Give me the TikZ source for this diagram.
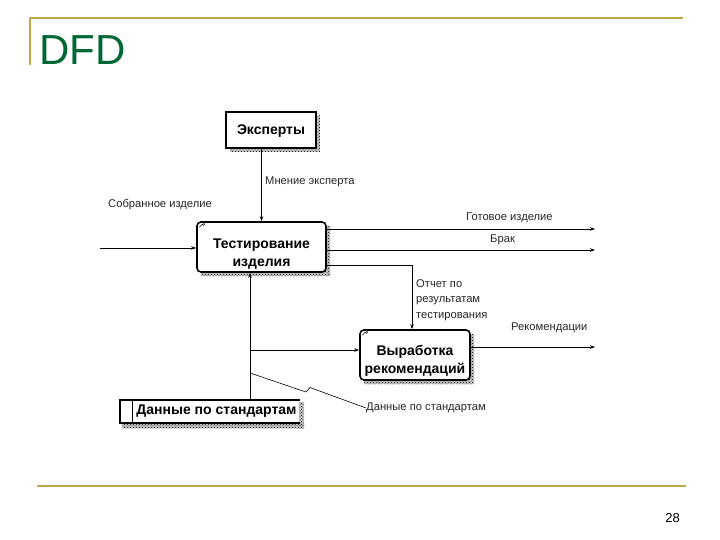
\documentclass[tikz,border=0pt]{standalone}
\usepackage{fontspec}
\setmainfont{Liberation Sans}
\usetikzlibrary{arrows.meta,patterns}
\definecolor{gold}{RGB}{192,168,72}
\definecolor{dfdgreen}{RGB}{0,102,51}
\begin{document}
\begin{tikzpicture}[x=1pt,y=-1pt,
  box/.style={draw,line width=1.6pt,rounded corners=4pt,fill=white,inner sep=0pt},
  boxtext/.style={align=center,inner sep=0pt,font=\bfseries\fontsize{14}{18}\selectfont},
  flow/.style={line width=0.8pt,-{Stealth[length=5pt,width=3.5pt]}},
  lbl/.style={font=\fontsize{11.2}{15.5}\selectfont,inner sep=0pt,text=black!85},
  shadebg/.style={fill=black!22,draw=none},
  shade/.style={pattern=crosshatch dots,pattern color=black,draw=none},
  cornermark/.style={line width=0.5pt}]
\useasboundingbox (0,0) rectangle (720,540);
% frame lines
\draw[gold,line width=1.8pt] (30,65) -- (30,18) -- (683,18);
\draw[gold,line width=2.2pt] (37,486) -- (686,486);
\node[anchor=base west,inner sep=0pt,text=dfdgreen,font=\fontsize{42}{42}\selectfont] (title) at (39,65) {DFD};
\node[anchor=base east,inner sep=0pt,font=\fontsize{13}{13}\selectfont] (page) at (680,522) {28};
% shadows
\foreach \s in {shadebg,shade}{
  \fill[\s] (230,116) rectangle (320,152);
  \fill[\s] (201,226) rectangle (330,276);
  \fill[\s] (364,334) rectangle (474,384);
  \fill[\s] (122,423) rectangle (304,428);
  \fill[\s] (299,402) rectangle (304,428);
}
% boxes
\node[box,rounded corners=0pt,line width=2pt,minimum width=90pt,minimum height=36pt] (exp) at (271,130) {};
\node[boxtext] (expt) at ([yshift=-1pt]exp.center) {Эксперты};
\node[box,minimum width=129pt,minimum height=50pt] (test) at (261.5,247) {};
\node[boxtext,font=\bfseries\fontsize{14}{17.5}\selectfont] (testt) at ([yshift=-7pt]test.center) {Тестирование\\изделия};
\node[box,minimum width=110pt,minimum height=50pt] (vyr) at (415,355) {};
\node[boxtext,font=\bfseries\fontsize{14}{17.5}\selectfont] (vyrt) at ([yshift=-6pt]vyr.center) {Выработка\\рекомендаций};
\node[inner sep=0pt,minimum width=180pt,minimum height=23pt,font=\bfseries\fontsize{14}{16}\selectfont] (store) at (210,411.5) {\hspace*{13pt}Данные по стандартам};
\draw[line width=1.8pt] (store.north east) -- (store.north west) -- (store.south west) -- (store.south east);
\draw[line width=1pt] ([xshift=13pt]store.north west) -- ([xshift=13pt]store.south west);
% corner marks
\draw[cornermark] ([shift={(3,6)}]test.north west) -- ++(3,-3) arc (180:-90:1.2);
\draw[cornermark] ([shift={(3,6)}]vyr.north west) -- ++(3,-3) arc (180:-90:1.2);
% connectors
\draw[flow] (exp.south -| test.north) -- (test.north);
\coordinate (in) at (100,248);
\draw[flow] (in) -- (in -| test.west);
\coordinate (o1) at (595,229);
\coordinate (o2) at (595,250);
\draw[flow] (test.east |- o1) -- (o1);
\draw[flow] (test.east |- o2) -- (o2);
\coordinate (rep) at (412,265);
\draw[flow] (test.east |- rep) -- (rep) -- (vyr.north -| rep);
\coordinate (o3) at (595,347);
\draw[flow] (vyr.east |- o3) -- (o3);
\coordinate (st) at (250,400);
\draw[flow] (st) -- (test.south -| st);
\coordinate (br) at (250,350);
\draw[flow] (br) -- (vyr.west |- br);
\coordinate (sq) at (250,373);
\node[lbl,anchor=west] (sqlbl) at (366,408) {Данные по стандартам};
\draw[line width=0.6pt] (sq) -- (306,392) -- (310,387.5) -- (sqlbl.west);
% labels
\node[lbl,anchor=west] (l1) at (265,182) {Мнение эксперта};
\node[lbl,anchor=west] (l2) at (108,205) {Собранное изделие};
\node[lbl,anchor=west] (l3) at (466,218) {Готовое изделие};
\node[lbl,anchor=west] (l4) at (490,240) {Брак};
\node[lbl,anchor=north west,align=left] (l5) at (416,279) {Отчет по\\результатам\\тестирования};
\node[lbl,anchor=west] (l6) at (511,328) {Рекомендации};
\end{tikzpicture}
\end{document}
